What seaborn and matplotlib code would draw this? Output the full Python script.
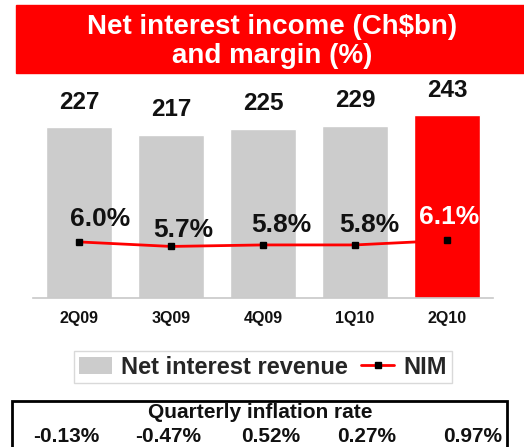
import numpy as np
import pandas as pd
import seaborn as sns
import matplotlib.pyplot as plt
from matplotlib.patches import Rectangle, Patch
from matplotlib.lines import Line2D

# data
quarters = ['2Q09', '3Q09', '4Q09', '1Q10', '2Q10']
revenue = [227, 217, 225, 229, 243]          # Ch$bn
nim = [6.0, 5.7, 5.8, 5.8, 6.1]              # %
inflation = ['-0.13%', '-0.47%', '0.52%', '0.27%', '0.97%']

# styling
bar_colors = ['#cccccc', '#cccccc', '#cccccc', '#cccccc', '#ff0000']
nim_text_colors = ['#111111', '#111111', '#111111', '#111111', 'white']
nim_dx = [21, 12, 18, 14, 2]      # label shift in px (as on the slide)
nim_dy = [23, 16, 20, 20, 23]
infl_x = [66, 168, 271, 367, 473]  # px positions in the box

sns.set_style('white')
plt.rcParams['font.family'] = ['Liberation Sans', 'DejaVu Sans']
plt.rcParams['font.weight'] = 'bold'

W, H = 524, 447
px = 0.72  # px -> points at 100 dpi
fig = plt.figure(figsize=(W / 100, H / 100), dpi=100)
ax = fig.add_axes([33 / W, 149 / H, 460 / W, 218 / H])

df = pd.DataFrame({'quarter': quarters, 'revenue': revenue, 'nim': nim})
sns.barplot(data=df, x='quarter', y='revenue', hue='quarter',
            palette=bar_colors, width=0.71, legend=False, ax=ax,
            saturation=1, zorder=2)
ax.set_xlim(-0.5, 4.5)
ax.set_ylim(0, 290)
ax.set_xlabel('')
ax.set_ylabel('')
ax.set_yticks([])
for s in ['top', 'left', 'right']:
    ax.spines[s].set_visible(False)
ax.spines['bottom'].set_color('#c8c8c8')
ax.spines['bottom'].set_linewidth(1.2)
ax.set_xticks(range(len(quarters)))
ax.set_xticklabels(quarters, fontsize=11.5, fontweight='bold', color='#111111')
ax.set_xticks(np.arange(-0.5, 5, 1), minor=True)
ax.tick_params(axis='x', which='major', length=0, pad=9)
ax.tick_params(axis='x', which='minor', length=8, direction='inout',
               color='#c8c8c8', width=1.2)

for i, v in enumerate(revenue):
    ax.annotate(str(v), (i, v), xytext=(0, 25 * px), textcoords='offset points',
                ha='center', va='center', fontsize=17.5, fontweight='bold',
                color='#111111', annotation_clip=False, zorder=10)

# NIM on a second axis
ax2 = ax.twinx()
ax2.set_xlim(-0.5, 4.5)
ax2.set_ylim(2.27, 16.77)
sns.lineplot(x=np.arange(len(nim)), y=nim, ax=ax2, color='#ff0000',
             linewidth=2, zorder=1)
ax2.plot(np.arange(len(nim)), nim, 's', color='black', markersize=4.5, zorder=3)
ax.set_zorder(1)
ax2.set_zorder(2)
ax2.patch.set_visible(False)
ax2.axis('off')
for i, v in enumerate(nim):
    ax2.annotate(f'{v:.1f}%', (i, v), xytext=(nim_dx[i] * px, nim_dy[i] * px),
                 textcoords='offset points', ha='center', va='center',
                 fontsize=19, color=nim_text_colors[i], fontweight='bold')

# title banner
fig.add_artist(Rectangle((16 / W, 1 - 73 / H), 1 - 16 / W, 68 / H,
                         transform=fig.transFigure, color='#ff0000', zorder=-1))
fig.text(272 / W, 1 - 27 / H, 'Net interest income (Ch$bn)', ha='center',
         va='center', color='white', fontsize=20, fontweight='bold')
fig.text(272 / W, 1 - 56 / H, 'and margin (%)', ha='center',
         va='center', color='white', fontsize=20, fontweight='bold')

# legend
handles = [Patch(facecolor='#cccccc', edgecolor='none'),
           Line2D([0], [0], color='#ff0000', lw=2, marker='s',
                  markerfacecolor='black', markeredgecolor='black', markersize=4)]
leg = fig.legend(handles, ['Net interest revenue', 'NIM'], loc='center',
                 bbox_to_anchor=(263 / W, 1 - 367 / H), ncol=2,
                 prop={'size': 17, 'weight': 'bold'}, frameon=True,
                 fancybox=False, edgecolor='#d0d0d0', handlelength=1.4,
                 handletextpad=0.4, columnspacing=0.55, borderpad=0.2,
                 borderaxespad=0)
leg.get_frame().set_linewidth(1)

# inflation box
fig.add_artist(Rectangle((12 / W, -0.05), 495 / W, 0.05 + 46 / H,
                         transform=fig.transFigure, facecolor='none',
                         edgecolor='black', lw=2, clip_on=False))
fig.text(260 / W, 1 - 413 / H, 'Quarterly inflation rate', ha='center',
         va='center', fontsize=15, fontweight='bold', color='#111111')
for x, t in zip(infl_x, inflation):
    fig.text(x / W, 1 - 437 / H, t, ha='center', va='center', fontsize=15,
             fontweight='bold', color='#111111')

fig.savefig('out.png', dpi=100, facecolor='white')
